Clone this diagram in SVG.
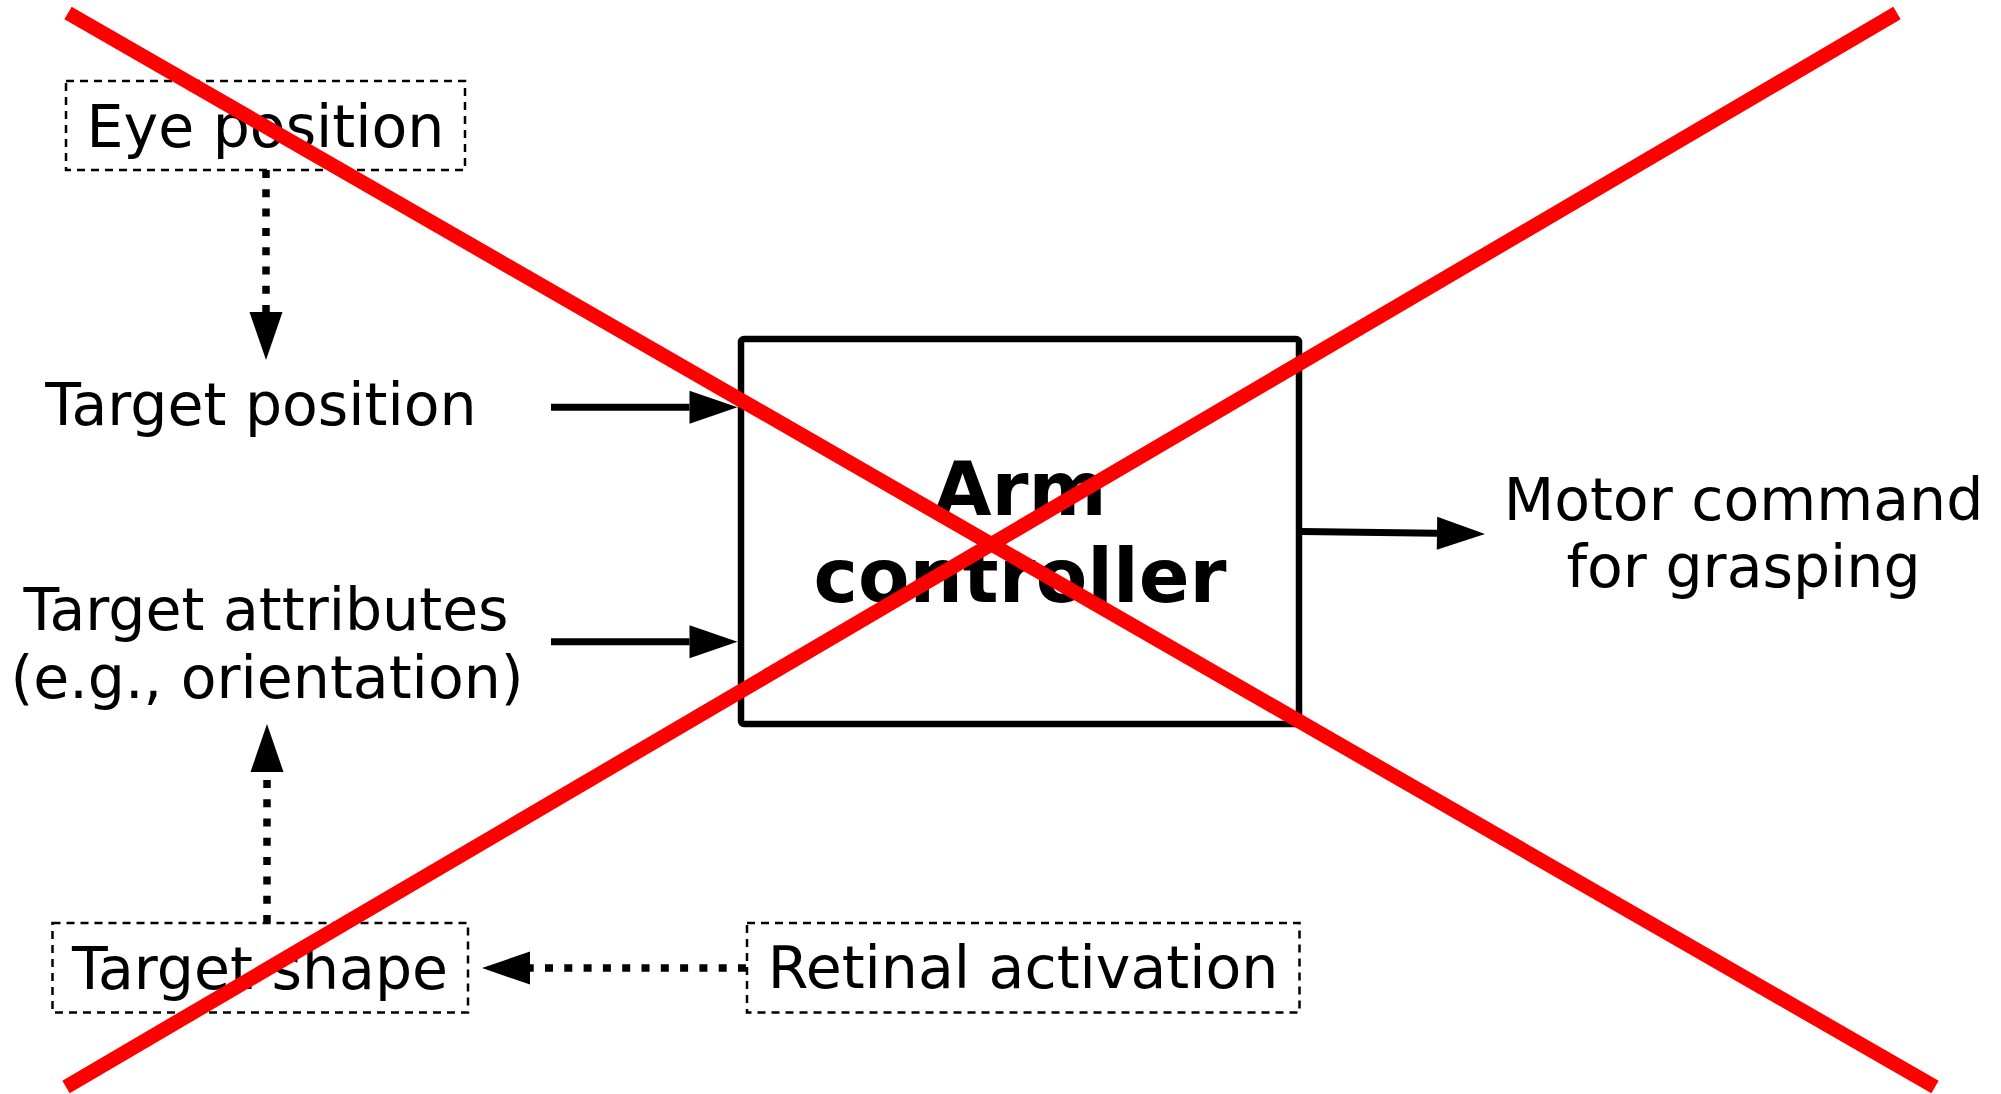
<svg xmlns="http://www.w3.org/2000/svg" width="2001" height="1094" viewBox="0 0 2001 1094">
  <style>
    .lbl { font-family: "DejaVu Sans", "Liberation Sans", sans-serif; font-size: 58.5px; fill: #000; text-anchor: middle; }
    .bold { font-weight: bold; font-size: 75px; }
    .dashbox { fill: none; stroke: #000; stroke-width: 2.5; stroke-dasharray: 8 6; }
    .mainbox { fill: #fff; stroke: #000; stroke-width: 6.5; }
    .solid { fill: none; stroke: #000; stroke-width: 7; marker-end: url(#head); }
    .dotted { fill: none; stroke: #000; stroke-width: 7.5; stroke-dasharray: 8 11.3; marker-end: url(#head); }
    .cross { stroke: #ff0000; stroke-width: 14.5; stroke-linecap: butt; }
  </style>
  <defs>
    <!-- arrowhead placed with its base at the end of the line -->
    <marker id="head" markerUnits="userSpaceOnUse" markerWidth="50" markerHeight="36" refX="0" refY="16.5" orient="auto" overflow="visible">
      <path d="M0,0 L48,16.5 L0,33 Z" fill="#000"/>
    </marker>
  </defs>

  <rect width="2001" height="1094" fill="#fff"/>

  <g id="connectors">
    <path class="dotted" d="M266,170 L266,312"/>
    <path class="solid" d="M551,407.3 L689.5,407.3"/>
    <path class="solid" d="M551,641.7 L689.5,641.7"/>
    <path class="solid" d="M1302,531.5 L1437,533.3"/>
    <path class="dotted" d="M267,923 L267,772"/>
    <path class="dotted" d="M746,968 L530,968"/>
  </g>

  <g id="eye-position">
    <rect class="dashbox" x="66" y="81" width="399" height="89"/>
    <text class="lbl" x="265.5" y="147">Eye position</text>
  </g>

  <g id="target-position">
    <text class="lbl" x="261" y="425">Target position</text>
  </g>

  <g id="target-attributes">
    <text class="lbl" x="266" y="630">Target attributes</text>
    <text class="lbl" x="267" y="698">(e.g., orientation)</text>
  </g>

  <g id="target-shape">
    <rect class="dashbox" x="52.5" y="923" width="415.5" height="89.5"/>
    <text class="lbl" x="260" y="989">Target shape</text>
  </g>

  <g id="retinal-activation">
    <rect class="dashbox" x="747" y="923" width="552.5" height="89.5"/>
    <text class="lbl" x="1023" y="988">Retinal activation</text>
  </g>

  <g id="arm-controller">
    <rect class="mainbox" x="741" y="339" width="558" height="385" rx="3"/>
    <text class="lbl bold" x="1020" y="515">Arm</text>
    <text class="lbl bold" x="1020" y="602">controller</text>
  </g>

  <g id="motor-command">
    <text class="lbl" x="1743.5" y="520">Motor command</text>
    <text class="lbl" x="1743.5" y="587">for grasping</text>
  </g>

  <!-- red cross drawn over the whole figure -->
  <g id="cross-out">
    <line class="cross" x1="68" y1="13" x2="1935" y2="1087"/>
    <line class="cross" x1="66" y1="1087" x2="1897" y2="13"/>
  </g>
</svg>
